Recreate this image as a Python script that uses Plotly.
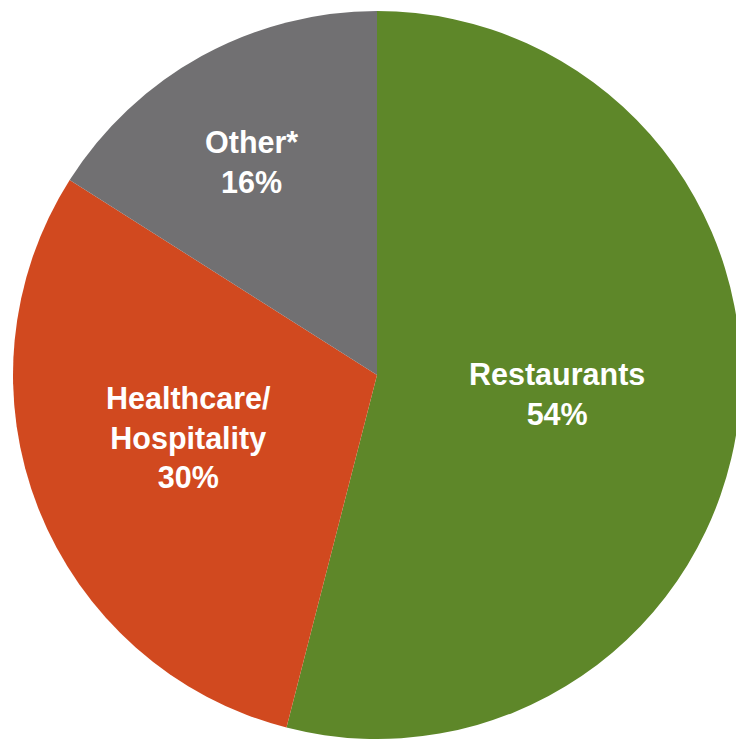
import plotly.graph_objects as go

categories = ["Restaurants", "Healthcare/<br>Hospitality", "Other*"]
values = [54, 30, 16]
colors = ["#5E8729", "#D1491F", "#717072"]

# label centers (pixels) for in-slice text
label_px = [(557, 394), (188, 437), (252, 162)]

W, H = 760, 739
cx, cy, r = 377, 375, 364

fig = go.Figure(go.Pie(
    labels=categories,
    values=values,
    sort=False,
    direction="clockwise",
    rotation=0,
    marker=dict(colors=colors, line=dict(width=0)),
    textinfo="none",
    hoverinfo="label+percent",
    domain=dict(x=[(cx - r) / W, (cx + r) / W], y=[1 - (cy + r) / H, 1 - (cy - r) / H]),
    showlegend=False,
))

for cat, v, (px, py) in zip(categories, values, label_px):
    fig.add_annotation(
        x=px / W, y=1 - py / H, xref="paper", yref="paper",
        text=f"<b>{cat}<br>{v}%</b>", showarrow=False,
        font=dict(family="Liberation Sans, Arial, sans-serif", size=30.5, color="white"),
        align="center", xanchor="center", yanchor="middle",
    )

fig.update_layout(
    width=W, height=H,
    margin=dict(l=0, r=0, t=0, b=0),
    paper_bgcolor="white",
    plot_bgcolor="white",
)

fig.write_html("out.html", post_script="document.body.style.overflow='hidden';document.body.style.margin='0';")
